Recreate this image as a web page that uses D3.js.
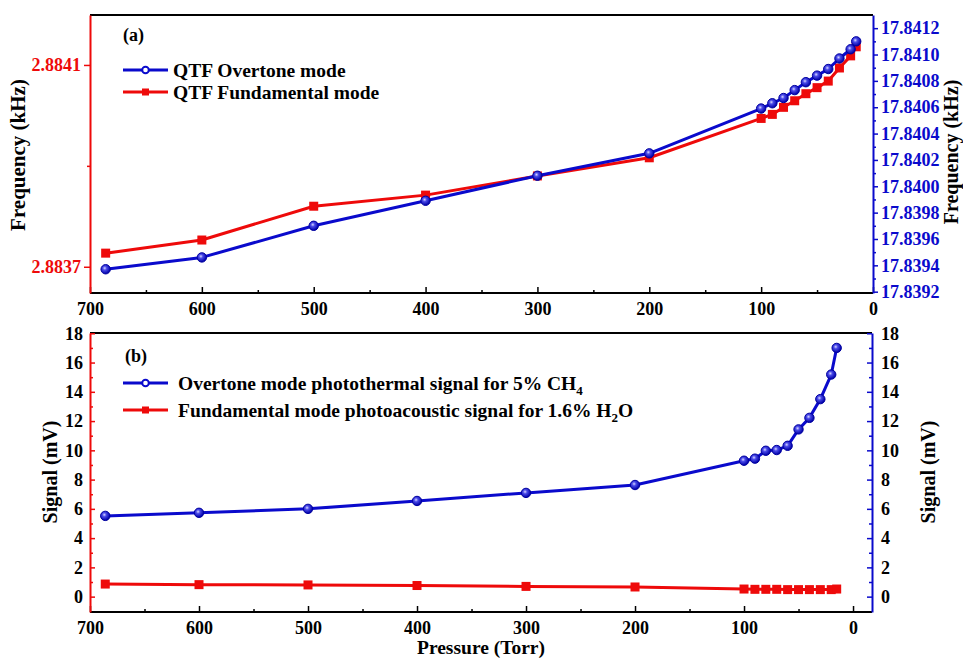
<!DOCTYPE html>
<html><head><meta charset="utf-8">
<script src="https://cdn.jsdelivr.net/npm/d3@7"></script>
<style>
body{margin:0;background:#fff;}
text{font-family:"Liberation Serif","Times New Roman",serif;font-weight:bold;}
</style></head>
<body><svg id="c" width="963" height="659"></svg>
<script>
const pressure = [686,600,500,400,300,200,100,90,80,70,60,50,40,30,20,15];
const overtoneFreq = [17.83937,17.83946,17.83970,17.83989,17.84008,17.84025,17.84059,17.84063,17.84067,17.84073,17.84079,17.84084,17.84089,17.84097,17.84104,17.84110];
const fundamentalFreq = [2.883727,2.883753,2.883820,2.883842,2.883880,2.883916,2.883994,2.884002,2.884016,2.884029,2.884043,2.884055,2.884068,2.884094,2.884118,2.884136];
const overtoneSignal = [5.52,5.73,6.0,6.54,7.09,7.63,9.29,9.43,9.97,10.02,10.31,11.43,12.22,13.5,15.18,17.0];
const fundamentalSignal = [0.86,0.82,0.8,0.76,0.7,0.66,0.52,0.5,0.5,0.5,0.48,0.48,0.48,0.48,0.48,0.52];
const xTicks = [700,600,500,400,300,200,100,0];
const xMinor = [650,550,450,350,250,150,50];
const leftFreqTicks = [2.8837,2.8841];
const leftFreqMinor = [2.8839];
const rightFreqTicks = [17.8392,17.8394,17.8396,17.8398,17.8400,17.8402,17.8404,17.8406,17.8408,17.8410,17.8412];
const rightFreqMinor = [17.8393,17.8395,17.8397,17.8399,17.8401,17.8403,17.8405,17.8407,17.8409,17.8411];
const signalTicks = [0,2,4,6,8,10,12,14,16,18];
const signalMinor = [1,3,5,7,9,11,13,15,17];

const BLUE = "#0a0acc", RED = "#ee0a0a";
const svg = d3.select("#c");
const defs = svg.append("defs");
const g = defs.append("radialGradient").attr("id","ball").attr("cx","40%").attr("cy","38%").attr("r","60%");
g.append("stop").attr("offset","0%").attr("stop-color","#d8d8ff");
g.append("stop").attr("offset","35%").attr("stop-color","#4a4ae8");
g.append("stop").attr("offset","100%").attr("stop-color","#0000a8");

// ---------- panel (a)
const A = {l:90, r:873, t:15, b:293};
const xa = d3.scaleLinear().domain([700,0]).range([A.l,A.r]);
const yaL = d3.scaleLinear().domain([2.883648,2.884199]).range([A.b,A.t]);
const yaR = d3.scaleLinear().domain([17.83919,17.8413]).range([A.b,A.t]);

// ---------- panel (b)
const B = {l:90, r:872, t:333, b:612};
const xb = d3.scaleLinear().domain([700,-17.4]).range([B.l,B.r]);
const yb = d3.scaleLinear().domain([-1.05,18.02]).range([B.b,B.t]);

function styleAxis(sel, color, labelColor){
  sel.selectAll("path.domain").attr("stroke",color).attr("stroke-width",2);
  sel.selectAll(".tick line").attr("stroke",color).attr("stroke-width",1.5);
  sel.selectAll(".tick text").attr("fill",labelColor).style("font-size","18px").style("font-family",'"Liberation Serif",serif').style("font-weight","bold");
}
function xAxes(x, P){
  svg.append("line").attr("x1",P.l).attr("x2",P.r).attr("y1",P.t).attr("y2",P.t).attr("stroke","#000").attr("stroke-width",2);
  const ax = svg.append("g").attr("transform",`translate(0,${P.b})`)
    .call(d3.axisBottom(x).tickValues(xTicks).tickFormat(d3.format("d")).tickSizeInner(-6).tickSizeOuter(0).tickPadding(9));
  styleAxis(ax,"#000","#000");
  ax.select("path.domain").attr("d",`M${P.l},0H${P.r}`);
  const am = svg.append("g").attr("transform",`translate(0,${P.b})`)
    .call(d3.axisBottom(x).tickValues(xMinor).tickFormat("").tickSizeInner(-3).tickSizeOuter(0));
  am.select("path.domain").remove();
  am.selectAll(".tick line").attr("stroke","#000").attr("stroke-width",1.5);
}
xAxes(xa, A);
xAxes(xb, B);

let s;
s = svg.append("g").attr("transform",`translate(${A.l},0)`).call(d3.axisLeft(yaL).tickValues(leftFreqTicks).tickFormat(d3.format(".4f")).tickSizeInner(6).tickSizeOuter(0).tickPadding(3));
styleAxis(s,RED,RED);
s = svg.append("g").attr("transform",`translate(${A.l},0)`).call(d3.axisLeft(yaL).tickValues(leftFreqMinor).tickFormat("").tickSizeInner(3).tickSizeOuter(0));
s.select("path.domain").remove(); s.selectAll(".tick line").attr("stroke",RED).attr("stroke-width",1.5);
s = svg.append("g").attr("transform",`translate(${A.r},0)`).call(d3.axisRight(yaR).tickValues(rightFreqTicks).tickFormat(d3.format(".4f")).tickSizeInner(5).tickSizeOuter(0).tickPadding(3));
styleAxis(s,BLUE,BLUE);
s = svg.append("g").attr("transform",`translate(${A.r},0)`).call(d3.axisRight(yaR).tickValues(rightFreqMinor).tickFormat("").tickSizeInner(3).tickSizeOuter(0));
s.select("path.domain").remove(); s.selectAll(".tick line").attr("stroke",BLUE).attr("stroke-width",1.5);

s = svg.append("g").attr("transform",`translate(${B.l},0)`).call(d3.axisLeft(yb).tickValues(signalTicks).tickFormat(d3.format("d")).tickSizeInner(-5).tickSizeOuter(0).tickPadding(7));
styleAxis(s,RED,"#000");
s = svg.append("g").attr("transform",`translate(${B.l},0)`).call(d3.axisLeft(yb).tickValues(signalMinor).tickFormat("").tickSizeInner(-3).tickSizeOuter(0));
s.select("path.domain").remove(); s.selectAll(".tick line").attr("stroke",RED).attr("stroke-width",1.5);
s = svg.append("g").attr("transform",`translate(${B.r},0)`).call(d3.axisRight(yb).tickValues(signalTicks).tickFormat(d3.format("d")).tickSizeInner(-5).tickSizeOuter(0).tickPadding(9));
styleAxis(s,BLUE,"#000");
s = svg.append("g").attr("transform",`translate(${B.r},0)`).call(d3.axisRight(yb).tickValues(signalMinor).tickFormat("").tickSizeInner(-3).tickSizeOuter(0));
s.select("path.domain").remove(); s.selectAll(".tick line").attr("stroke",BLUE).attr("stroke-width",1.5);

function series(x, y, vals, color, marker, size){
  const pts = pressure.map((p,i)=>[x(p), y(vals[i])]);
  svg.append("path").attr("d",d3.line()(pts)).attr("fill","none").attr("stroke",color).attr("stroke-width",3).attr("stroke-linejoin","round");
  if(marker==="sq"){
    svg.append("g").selectAll("rect").data(pts).join("rect")
      .attr("x",d=>d[0]-size/2).attr("y",d=>d[1]-size/2).attr("width",size).attr("height",size).attr("fill",color);
  } else {
    svg.append("g").selectAll("circle").data(pts).join("circle")
      .attr("cx",d=>d[0]).attr("cy",d=>d[1]).attr("r",size).attr("fill","url(#ball)").attr("stroke","#0000a0").attr("stroke-width",1);
  }
}
series(xa, yaL, fundamentalFreq, RED, "sq", 9);
series(xa, yaR, overtoneFreq, BLUE, "ci", 4.7);
series(xb, yb, fundamentalSignal, RED, "sq", 9);
series(xb, yb, overtoneSignal, BLUE, "ci", 4.7);

function legItem(x, y, color, marker){
  svg.append("line").attr("x1",x).attr("x2",x+45).attr("y1",y).attr("y2",y).attr("stroke",color).attr("stroke-width",3);
  if(marker==="sq") svg.append("rect").attr("x",x+22.5-3.5).attr("y",y-3.5).attr("width",7).attr("height",7).attr("fill",color);
  else svg.append("circle").attr("cx",x+22.5).attr("cy",y).attr("r",3.3).attr("fill","#fff").attr("stroke",color).attr("stroke-width",2);
}
function txt(x,y,str,size,anchor,color){
  return svg.append("text").attr("x",x).attr("y",y).attr("text-anchor",anchor||"start").attr("fill",color||"#000").style("font-size",size+"px").text(str);
}
txt(123,41,"(a)",18);
legItem(123,70,BLUE,"ci"); txt(173,77,"QTF Overtone mode",19.5);
legItem(123,92,RED,"sq"); txt(173,99,"QTF Fundamental mode",19.5);

txt(125,362,"(b)",18);
legItem(123,383,BLUE,"ci");
let t1 = txt(178,390,"Overtone mode photothermal signal for 5% CH",19.5);
t1.append("tspan").attr("dy",5).style("font-size","13px").text("4");
legItem(123,410,RED,"sq");
let t2 = txt(178,417,"Fundamental mode photoacoustic signal for 1.6% H",19.5);
t2.append("tspan").attr("dy",5).style("font-size","13px").text("2");
t2.append("tspan").attr("dy",-5).text("O");

function vtitle(x,y,str,size){
  svg.append("text").attr("transform",`translate(${x},${y}) rotate(-90)`).attr("text-anchor","middle").style("font-size",size+"px").text(str);
}
vtitle(25,155,"Frequency (kHz)",21);
vtitle(958,152,"Frequency (kHz)",20);
vtitle(57,472,"Signal (mV)",20);
vtitle(935,472,"Signal (mV)",20);
txt(481,654,"Pressure (Torr)",19.5,"middle");
</script></body></html>
